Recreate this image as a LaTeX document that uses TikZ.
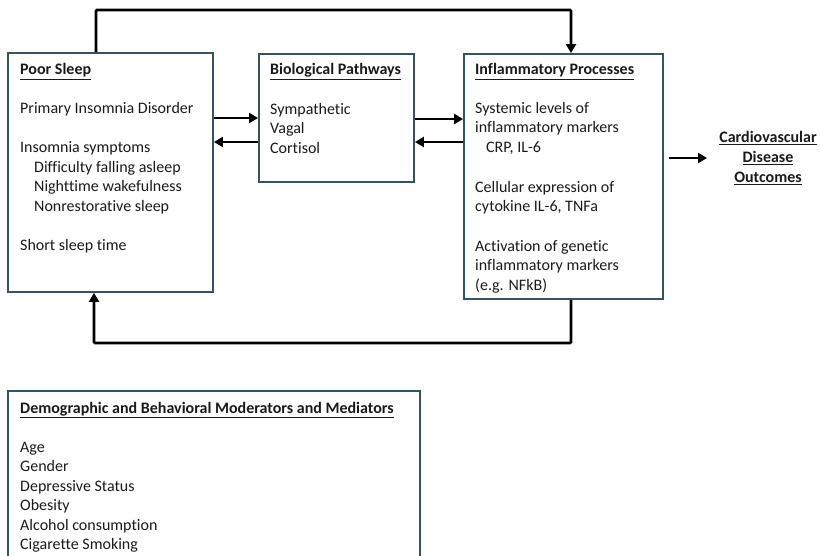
\documentclass[tikz,border=0pt]{standalone}
\usepackage{fontspec}
\setmainfont{Carlito}[Ligatures=NoCommon]
\usetikzlibrary{arrows.meta,positioning}
\newcommand{\myul}[1]{\underline{\textbf{#1}}}
\begin{document}
\begin{tikzpicture}[x=1pt,y=-1pt,
  box/.style={draw=boxcol,line width=1.8pt,minimum width=#1,inner sep=0pt},
  txt/.style={anchor=base west,inner sep=0pt,font=\fontsize{16}{19.5}\selectfont,text=textcol},
  arr/.style={line width=2.6pt,-{Triangle[length=9pt,width=10pt]}}]
\definecolor{boxcol}{HTML}{34545E}
\definecolor{textcol}{HTML}{1A1A1A}
\useasboundingbox (0,0) rectangle (820,556);
% boxes
\node[box=205pt,minimum height=239pt] (ps) at (110.5,172.5) {};
\node[box=155pt,minimum height=128pt] (bp) at (336.5,118) {};
\node[box=199pt,minimum height=245pt] (ip) at (563.5,176.5) {};
\begin{scope}
\clip (0,0) rectangle (820,556);
\node[box=412pt,minimum height=190pt] (dm) at (214,486) {};
\end{scope}
% Poor sleep text
\node[txt] (ps1) at (20,75) {\myul{Poor Sleep}};
\node[txt] (ps2) at (20,114) {Primary Insomnia Disorder};
\node[txt] (ps3) at (20,153) {Insomnia symptoms};
\node[txt] (ps4) at (34,173) {Difficulty falling asleep};
\node[txt] (ps5) at (34,192) {Nighttime wakefulness};
\node[txt] (ps6) at (34,212) {Nonrestorative sleep};
\node[txt] (ps7) at (20,251) {Short sleep time};
% Biological
\node[txt] (bp1) at (270,75) {\myul{Biological Pathways}};
\node[txt] (bp2) at (270,115) {Sympathetic};
\node[txt] (bp3) at (270,134) {Vagal};
\node[txt] (bp4) at (270,154) {Cortisol};
% Inflammatory
\node[txt] (ip1) at (475,75) {\myul{Inflammatory Processes}};
\node[txt] (ip2) at (475,114) {Systemic levels of};
\node[txt] (ip3) at (475,133) {inflammatory markers};
\node[txt] (ip4) at (486,153) {CRP, IL-6};
\node[txt] (ip5) at (475,193) {Cellular expression of};
\node[txt] (ip6) at (475,212) {cytokine IL-6, TNFa};
\node[txt] (ip7) at (475,252) {Activation of genetic};
\node[txt] (ip8) at (475,271) {inflammatory markers};
\node[txt] (ip9) at (475,291) {(e.g. NFkB)};
% Cardio
\node[inner sep=0pt,align=center,font=\fontsize{16}{20}\selectfont\bfseries,text=textcol] (cv) at (768,158)
  {\underline{Cardiovascular}\\\underline{Disease}\\\underline{Outcomes}};
% Demographic text
\node[txt] (dm1) at (20,413) {\myul{Demographic and Behavioral Moderators and Mediators}};
\node[txt] (dm2) at (20,452) {Age};
\node[txt] (dm3) at (20,471) {Gender};
\node[txt] (dm4) at (20,491) {Depressive Status};
\node[txt] (dm5) at (20,510) {Obesity};
\node[txt] (dm6) at (20,530) {Alcohol consumption};
\node[txt] (dm7) at (20,549) {Cigarette Smoking};
% arrows between boxes
\draw[arr] (ps.east |- 0,118) -- (bp.west |- 0,118);
\draw[arr] (bp.west |- 0,142) -- (ps.east |- 0,142);
\draw[arr] (bp.east |- 0,119) -- (ip.west |- 0,119);
\draw[arr] (ip.west |- 0,142) -- (bp.east |- 0,142);
\coordinate (c1) at (669,158);
\coordinate (c2) at (707,158);
\draw[arr] (c1) -- (c2);
% loops
\draw[arr,rounded corners=1pt] (ps.north -| 96,0) -- (96,10) -- (571,10) -- (ip.north -| 571,0);
\draw[arr,rounded corners=1pt] (ip.south -| 571,0) -- (571,343) -- (94,343) -- (ps.south -| 94,0);
\end{tikzpicture}
\end{document}
